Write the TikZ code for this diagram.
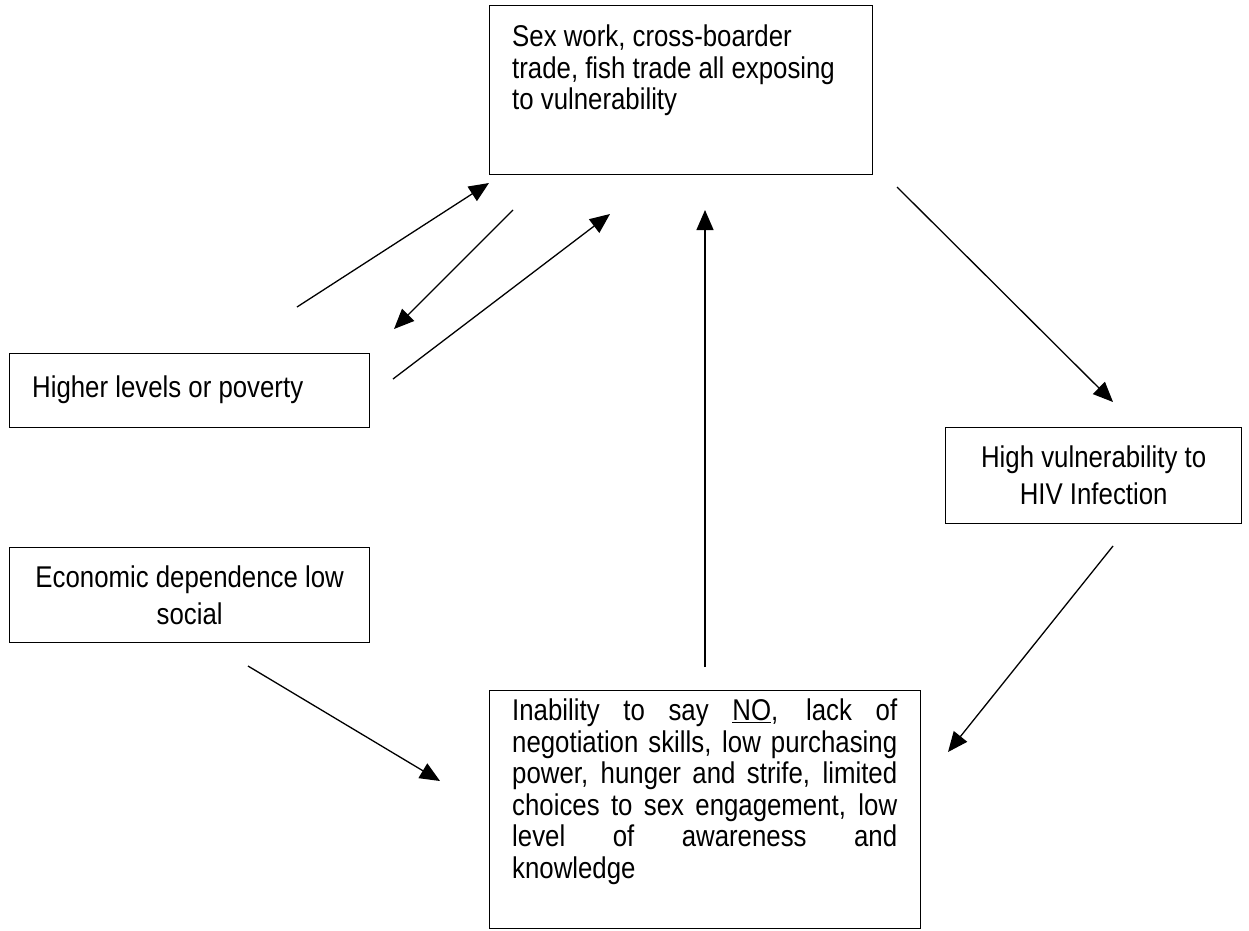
\documentclass[tikz,border=0pt]{standalone}
\usepackage{fontspec}
\setmainfont[FakeStretch=0.86]{Liberation Sans}
\setlength{\parindent}{0pt}
\usetikzlibrary{arrows.meta,positioning}
\tikzset{blk/.style={draw, line width=1.3pt, inner sep=0pt, anchor=north west},
	txt/.style={inner sep=0pt, font=\fontsize{30}{31.5}\selectfont},
	ctr/.style={align=center, font=\fontsize{30}{37}\selectfont}}

\begin{document}
\begin{tikzpicture}[x=1pt,y=-1pt,>={Triangle[length=20pt,width=17pt]}]
		\useasboundingbox (0,0) rectangle (1249,930);
		% boxes
		\node[blk, minimum width=383pt, minimum height=169pt] (work) at (489,5) {};
		\node[txt, align=left, below right=20pt and 23pt of work.north west] (worktxt) {Sex work, cross-boarder\\trade, fish trade all exposing\\to vulnerability};
		\node[blk, minimum width=360pt, minimum height=74pt] (poor) at (9,353) {};
		\node[txt, anchor=west] (poortxt) at ([xshift=23pt,yshift=1pt]poor.west) {Higher levels or poverty};
		\node[blk, ctr, minimum width=360pt, minimum height=95pt] (econ) at (9,547) {Economic dependence low\\social};
		\node[blk, ctr, minimum width=296pt, minimum height=96pt] (hiv) at (945,427) {High vulnerability to\\HIV Infection};
		\node[blk, minimum width=431pt, minimum height=238pt] (say) at (489,690) {};
		\node[txt, text width=385pt, align=justify, below right=9pt and 23pt of say.north west] (saytxt) {Inability to say \underline{NO}, lack of\linebreak negotiation skills, low purchasing\linebreak power, hunger and strife, limited\linebreak choices to sex engagement, low\linebreak level of awareness and\linebreak knowledge};

		% arrow ends
		\coordinate (p1) at (297,307); \coordinate (w1) at (489,183);
		\coordinate (w2) at (513,210); \coordinate (p2) at (394,329);
		\coordinate (p3) at (393,379); \coordinate (w3) at (610,214);
		\coordinate (s1) at (705,667); \coordinate (w4) at (705,210);
		\coordinate (w5) at (897,187); \coordinate (h1) at (1113,402);
		\coordinate (h2) at (1113,546); \coordinate (s2) at (948,752);
		\coordinate (e1) at (248,666); \coordinate (s3) at (440,781);

		\draw[->, line width=1.3pt] (p1) -- (w1); \draw[->, line width=1.3pt] (w2) -- (p2); \draw[->, line width=1.3pt] (p3) -- (w3);
		\draw[->, line width=1.3pt] (s1) -- (w4); \draw[->, line width=1.3pt] (w5) -- (h1); \draw[->, line width=1.3pt] (h2) -- (s2);
		\draw[->, line width=1.3pt] (e1) -- (s3);
\end{tikzpicture}
\end{document}
